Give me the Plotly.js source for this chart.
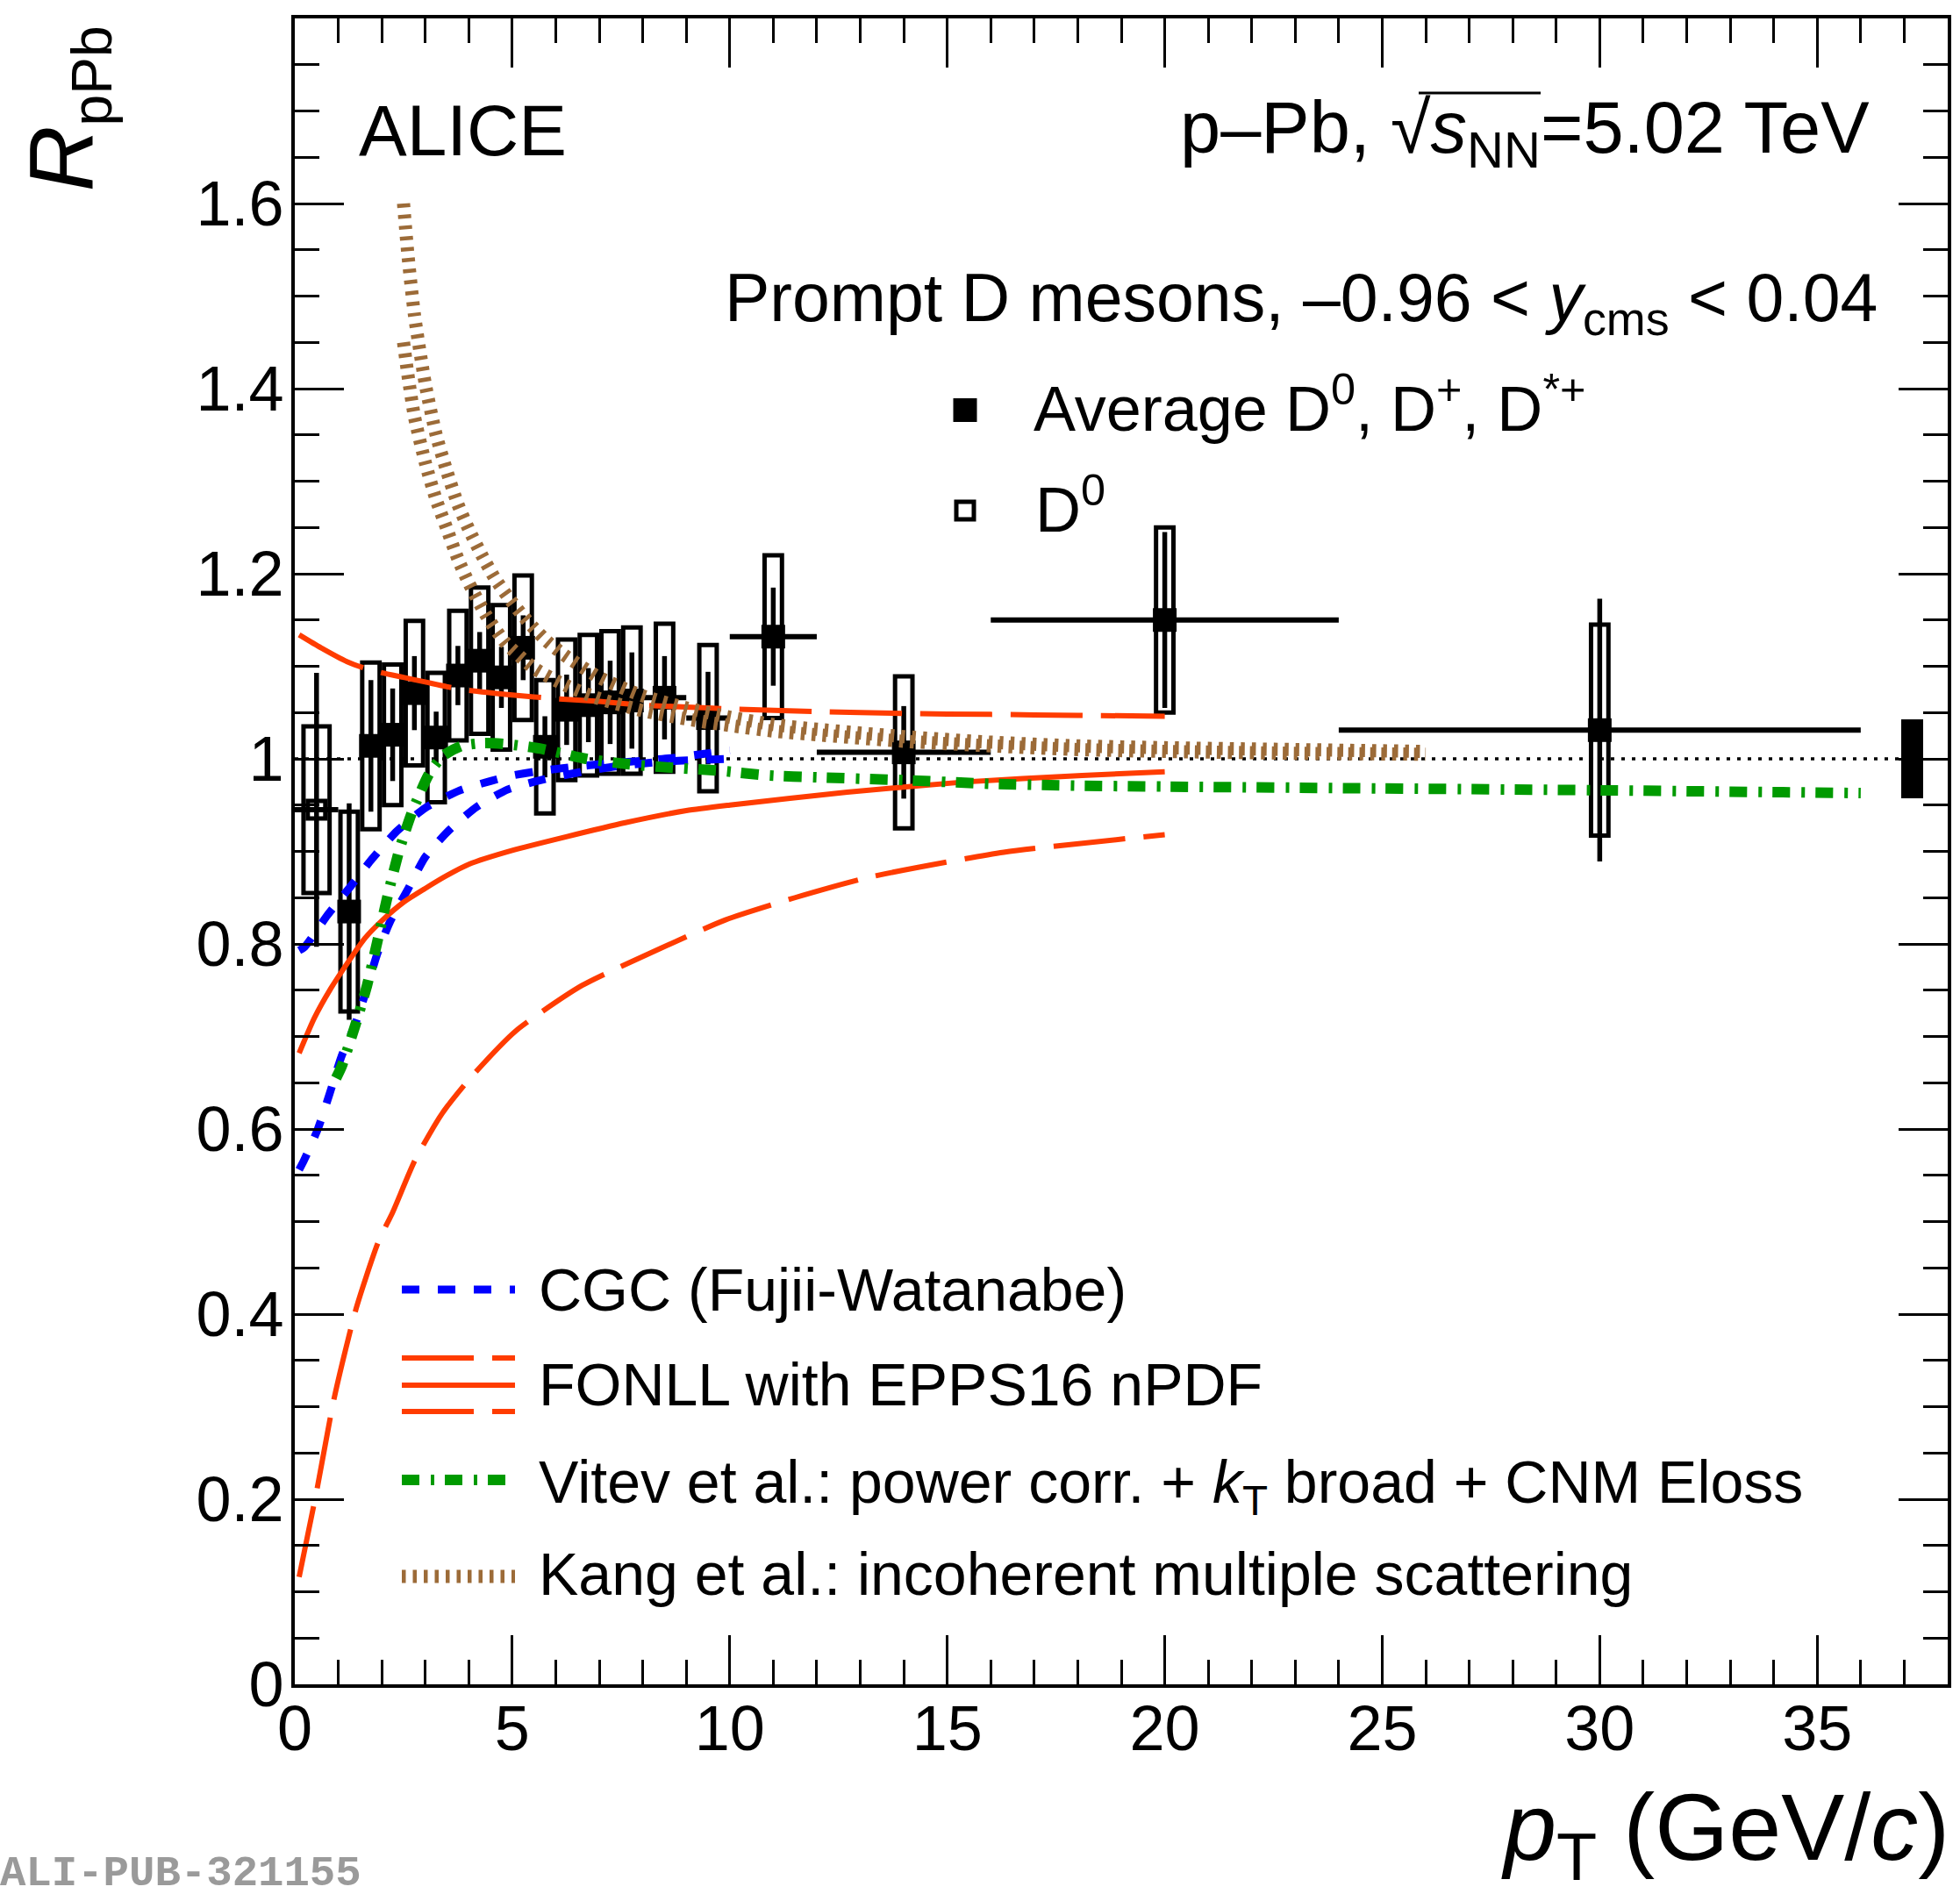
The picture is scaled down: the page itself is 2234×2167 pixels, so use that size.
<!DOCTYPE html>
<html>
<head>
<meta charset="utf-8">
<script src="https://cdn.plot.ly/plotly-3.0.1.min.js"></script>
<style>
html, body { margin:0; padding:0; background:#ffffff; }
#chart { width:2234px; height:2167px; }
</style>
</head>
<body>
<div id="chart"></div>
<script>
// ================= DATA =================
// D0 meson, 0 < pT < 1 GeV/c
const d0BinLow  = [0];
const d0BinHigh = [1];
const d0R       = [0.945];
const d0Stat    = [0.148];
const d0Syst    = [0.09];

// Average D0, D+, D*+
const avgBinLow  = [1, 1.5, 2, 2.5, 3, 3.5, 4, 4.5, 5, 5.5, 6, 6.5, 7, 7.5, 8, 9, 10, 12, 16, 24];
const avgBinHigh = [1.5, 2, 2.5, 3, 3.5, 4, 4.5, 5, 5.5, 6, 6.5, 7, 7.5, 8, 9, 10, 12, 16, 24, 36];
const avgR    = [0.835, 1.014, 1.026, 1.071, 1.023, 1.09, 1.106, 1.088, 1.12, 1.013, 1.053, 1.058, 1.061, 1.063, 1.066, 1.044, 1.132, 1.007, 1.15, 1.031];
const avgStat = [0.117, 0.071, 0.05, 0.04, 0.028, 0.032, 0.031, 0.033, 0.035, 0.033, 0.038, 0.04, 0.045, 0.052, 0.045, 0.05, 0.053, 0.05, 0.095, 0.142];
const avgSyst = [0.108, 0.09, 0.076, 0.078, 0.07, 0.07, 0.079, 0.078, 0.078, 0.072, 0.076, 0.076, 0.077, 0.079, 0.08, 0.079, 0.088, 0.082, 0.1, 0.114];

// normalisation uncertainty box (drawn at pT beyond the last bin)
const normPt  = [37.18];
const normUnc = [0.0425];

// unity reference line
const unityX = [0, 36.9];
const unityY = [1, 1];

// CGC (Fujii-Watanabe) band edges
const cgcUpX = [0.1, 0.23, 0.75, 1.28, 1.78, 2.35, 3.0, 3.8, 4.5, 5.0, 5.5, 6.35, 7.2, 8.0, 8.7, 9.5, 10];
const cgcUpY = [0.793, 0.797, 0.831, 0.862, 0.892, 0.922, 0.947, 0.966, 0.976, 0.982, 0.986, 0.991, 0.995, 0.998, 1.001, 1.006, 1.009];
const cgcLoX = [0.1, 0.21, 0.53, 0.8, 1.07, 1.37, 1.62, 1.88, 2.18, 2.6, 3.0, 3.55, 4.18, 4.9, 5.75, 6.6, 7.4, 8.5, 10];
const cgcLoY = [0.556, 0.566, 0.6, 0.638, 0.678, 0.711, 0.746, 0.787, 0.823, 0.859, 0.894, 0.923, 0.948, 0.967, 0.978, 0.986, 0.992, 0.997, 1.0];

// FONLL with EPPS16 nPDF: central, upper, lower
const fonllCenX = [0.1, 0.45, 0.83, 1.22, 1.61, 2.0, 2.5, 3.0, 3.5, 4.0, 5.0, 6.26, 7.6, 9.0, 10, 12.7, 15.4, 18.1, 20];
const fonllCenY = [0.682, 0.72, 0.752, 0.78, 0.806, 0.825, 0.845, 0.86, 0.874, 0.886, 0.901, 0.916, 0.931, 0.944, 0.95, 0.964, 0.975, 0.982, 0.986];
const fonllUpX  = [0.1, 0.6, 1.2, 1.6, 2.0, 2.5, 3.0, 3.6, 4.0, 5.0, 6.0, 7.0, 8.0, 9.0, 10, 12, 14, 16, 18, 20];
const fonllUpY  = [1.134, 1.12, 1.105, 1.098, 1.093, 1.088, 1.083, 1.077, 1.074, 1.069, 1.065, 1.062, 1.058, 1.056, 1.054, 1.051, 1.049, 1.048, 1.047, 1.046];
const fonllLoX  = [0.1, 0.52, 0.9, 1.41, 1.92, 2.25, 2.76, 3.39, 4.07, 5.08, 6.6, 8.4, 9.9, 11.5, 13.2, 16.3, 20];
const fonllLoY  = [0.116, 0.213, 0.308, 0.406, 0.478, 0.51, 0.566, 0.617, 0.657, 0.706, 0.755, 0.795, 0.826, 0.85, 0.872, 0.899, 0.918];

// Vitev et al.
const vitevX = [0.95, 1.08, 1.39, 1.66, 1.9, 2.13, 2.4, 2.7, 3.09, 3.4, 3.84, 4.35, 4.85, 5.65, 6.7, 7.7, 8.8, 9.8, 10.9, 12, 14, 16, 18, 20, 25, 30, 36];
const vitevY = [0.655, 0.668, 0.712, 0.755, 0.803, 0.851, 0.901, 0.943, 0.984, 1.003, 1.014, 1.017, 1.016, 1.011, 1.0, 0.994, 0.99, 0.987, 0.982, 0.98, 0.977, 0.973, 0.971, 0.97, 0.968, 0.966, 0.963];

// Kang et al. band edges
const kangUpX = [2.5, 2.6, 2.75, 3.0, 3.25, 3.5, 3.75, 4.0, 4.3, 4.6, 4.9, 5.2, 5.5, 5.8, 6.2, 7.0, 8.0, 9.0, 10, 11, 12, 14, 16, 18, 20, 23, 26];
const kangUpY = [1.60, 1.545, 1.48, 1.405, 1.35, 1.31, 1.275, 1.248, 1.22, 1.195, 1.175, 1.157, 1.141, 1.127, 1.112, 1.088, 1.068, 1.055, 1.045, 1.037, 1.032, 1.024, 1.018, 1.014, 1.012, 1.01, 1.008];
const kangLoX = [2.5, 2.6, 2.75, 3.0, 3.25, 3.5, 3.75, 4.0, 4.4, 4.85, 5.5, 6.2, 7.0, 8.0, 9.0, 10, 11, 12, 14, 16, 18, 20, 23, 26];
const kangLoY = [1.45, 1.415, 1.37, 1.32, 1.28, 1.248, 1.216, 1.19, 1.155, 1.125, 1.098, 1.08, 1.065, 1.052, 1.043, 1.036, 1.03, 1.026, 1.019, 1.014, 1.01, 1.008, 1.006, 1.005];

// ================= STYLE =================
const FONT = '"Liberation Sans", Arial, Helvetica, sans-serif';
const RED = '#ff3c00', BLUE = '#0000ff', GREEN = '#009a00', BROWN = '#9c6b38';
const PL = 336, PR = 2220, PT = 21, PB = 1920;      // plot area in pixels
const px = x => (x - PL) / (PR - PL);
const py = y => (PB - y) / (PB - PT);

function binCentres(lo, hi) { return lo.map((l, i) => (l + hi[i]) / 2); }
function binHalf(lo, hi) { return lo.map((l, i) => (hi[i] - l) / 2); }
function boxPath(lo, hi, val, syst, hw) {
  const xs = [], ys = [];
  for (let i = 0; i < val.length; i++) {
    const c = (lo[i] + hi[i]) / 2, y0 = val[i] - syst[i], y1 = val[i] + syst[i];
    xs.push(c - hw, c + hw, c + hw, c - hw, c - hw, c + hw, null);
    ys.push(y0, y0, y1, y1, y0, y0, null);
  }
  return { xs, ys };
}

const avgC = binCentres(avgBinLow, avgBinHigh), avgH = binHalf(avgBinLow, avgBinHigh);
const d0C = binCentres(d0BinLow, d0BinHigh), d0H = binHalf(d0BinLow, d0BinHigh);
const ab = boxPath(avgBinLow, avgBinHigh, avgR, avgSyst, 0.2);
const db = boxPath(d0BinLow, d0BinHigh, d0R, d0Syst, 0.3);

const traces = [
  { type:'bar', x:normPt, y:normUnc.map(u => 2*u), base:normUnc.map(u => 1-u), width:[0.5],
    marker:{color:'black', line:{width:0}}, hoverinfo:'skip' },
  { type:'scatter', mode:'lines', x:unityX, y:unityY, line:{color:'black', width:3.5, dash:'4px,8px'}, hoverinfo:'skip' },
  { type:'scatter', mode:'lines', x:ab.xs, y:ab.ys, line:{color:'black', width:5}, hoverinfo:'skip' },
  { type:'scatter', mode:'lines', x:db.xs, y:db.ys, line:{color:'black', width:5}, hoverinfo:'skip' },
  { type:'scatter', mode:'markers', x:avgC, y:avgR,
    error_y:{type:'data', array:avgStat, visible:true, thickness:5.5, width:0, color:'black'},
    error_x:{type:'data', array:avgH, visible:true, thickness:6, width:0, color:'black'},
    marker:{symbol:'square', size:27, color:'black'} },
  { type:'scatter', mode:'markers', x:d0C, y:d0R,
    error_y:{type:'data', array:d0Stat, visible:true, thickness:5.5, width:0, color:'black'},
    error_x:{type:'data', array:d0H, visible:true, thickness:6, width:0, color:'black'},
    marker:{symbol:'square-open', size:20, color:'black', line:{width:5, color:'black'}} },
  // CGC
  { type:'scatter', mode:'lines', x:cgcUpX, y:cgcUpY, line:{color:BLUE, width:9, dash:'20px,21px', shape:'spline', smoothing:0.6} },
  { type:'scatter', mode:'lines', x:cgcLoX, y:cgcLoY, line:{color:BLUE, width:9, dash:'20px,21px', shape:'spline', smoothing:0.6} },
  // FONLL
  { type:'scatter', mode:'lines', x:fonllUpX, y:fonllUpY, line:{color:RED, width:6, dash:'82px,21px', shape:'spline', smoothing:0.6} },
  { type:'scatter', mode:'lines', x:fonllCenX, y:fonllCenY, line:{color:RED, width:6, shape:'spline', smoothing:0.6} },
  { type:'scatter', mode:'lines', x:fonllLoX, y:fonllLoY, line:{color:RED, width:6, dash:'82px,21px', shape:'spline', smoothing:0.6} },
  // Vitev
  { type:'scatter', mode:'lines', x:vitevX, y:vitevY, line:{color:GREEN, width:12, dash:'20px,13px,4px,12px', shape:'spline', smoothing:0.6} },
  // Kang
  { type:'scatter', mode:'lines', x:kangUpX, y:kangUpY, line:{color:BROWN, width:15, dash:'4.5px,8px', shape:'spline', smoothing:0.6} },
  { type:'scatter', mode:'lines', x:kangLoX, y:kangLoY, line:{color:BROWN, width:15, dash:'4.5px,8px', shape:'spline', smoothing:0.6} }
];

function txt(text, x, y, size, xanchor, yanchor, extra) {
  return Object.assign({ text, xref:'paper', yref:'paper', x:px(x), y:py(y), xanchor, yanchor,
    showarrow:false, borderpad:0, borderwidth:0, font:{family:FONT, size, color:'black'} }, extra || {});
}
function hline(x0, x1, y, color, width, dash) {
  return { type:'line', xref:'paper', yref:'paper', x0:px(x0), x1:px(x1), y0:py(y), y1:py(y),
    line:{color, width, dash: dash || 'solid'} };
}

const annotations = [
  txt('ALICE', 409, 149, 82, 'left', 'middle'),
  txt('p–Pb, √<i>s</i><sub>NN</sub>=5.02 TeV', 2131, 151, 83, 'right', 'middle'),
  txt('Prompt D mesons, –0.96 < <i>y</i><sub>cms</sub> < 0.04', 2140, 344, 77, 'right', 'middle'),
  txt('Average D<sup>0</sup>, D<sup>+</sup>, D<sup>*+</sup>', 1178, 461, 72, 'left', 'middle'),
  txt('D<sup>0</sup>', 1180, 575, 72, 'left', 'middle'),
  txt('CGC (Fujii-Watanabe)', 614, 1470, 68, 'left', 'middle'),
  txt('FONLL with EPPS16 nPDF', 614, 1578, 68, 'left', 'middle'),
  txt('Vitev et al.: power corr. + <i>k</i><sub>T</sub> broad + CNM Eloss', 614, 1694, 68, 'left', 'middle'),
  txt('Kang et al.: incoherent multiple scattering', 614, 1794, 68, 'left', 'middle'),
  txt('<i>R</i><sub><span style="font-size:64px">pPb</span></sub>', 11, 30, 104, 'left', 'top', {textangle:-90}),
  txt('<i>p</i><sub>T</sub> (GeV/<i>c</i>)', 2222, 2090, 108, 'right', 'middle'),
  txt('<b>ALI-PUB-321155</b>', 0, 2164, 49, 'left', 'bottom', {font:{family:'"Liberation Mono", "DejaVu Sans Mono", monospace', size:49, color:'#9a9a9a'}})
];

const shapes = [
  // sqrt bar over s_NN
  hline(1617, 1756, 106, 'black', 3),
  // marker legend
  { type:'rect', xref:'paper', yref:'paper', x0:px(1086.5), x1:px(1113.5), y0:py(481), y1:py(454), fillcolor:'black', line:{width:0} },
  { type:'rect', xref:'paper', yref:'paper', x0:px(1090), x1:px(1110), y0:py(592), y1:py(572), fillcolor:'rgba(0,0,0,0)', line:{color:'black', width:5} },
  // curve legend samples
  hline(458, 587, 1470, BLUE, 9, '20px,21px'),
  hline(458, 587, 1548, RED, 6, '82px,21px'),
  hline(458, 587, 1579, RED, 6),
  hline(458, 587, 1609, RED, 6, '82px,21px'),
  hline(458, 587, 1687, GREEN, 12, '20px,13px,4px,12px'),
  hline(458, 587, 1797, BROWN, 15, '4.5px,8px')
];

const axisCommon = {
  showgrid:false, zeroline:false, showline:true, linecolor:'black', linewidth:4, mirror:'allticks',
  ticks:'inside', ticklen:56, tickwidth:3, tickcolor:'black',
  tickfont:{family:FONT, size:72, color:'black'}, fixedrange:true
};

const layout = {
  width:2234, height:2167,
  margin:{l:PL, r:2234-PR, t:PT, b:2167-PB, pad:0},
  paper_bgcolor:'white', plot_bgcolor:'white',
  showlegend:false, hovermode:false, bargap:0,
  font:{family:FONT, color:'black'},
  xaxis: Object.assign({}, axisCommon, { range:[0, 38], tick0:0, dtick:5, ticklabelstandoff:-15,
    minor:{tick0:0, dtick:1, ticks:'inside', ticklen:28, tickwidth:3, tickcolor:'black', showgrid:false} }),
  yaxis: Object.assign({}, axisCommon, { range:[0, 1.8], tick0:0, dtick:0.2, ticklabelstandoff:-6,
    minor:{tick0:0, dtick:0.05, ticks:'inside', ticklen:28, tickwidth:3, tickcolor:'black', showgrid:false} }),
  annotations, shapes
};

Plotly.newPlot('chart', traces, layout, {staticPlot:true, displayModeBar:false});
</script>
</body>
</html>
